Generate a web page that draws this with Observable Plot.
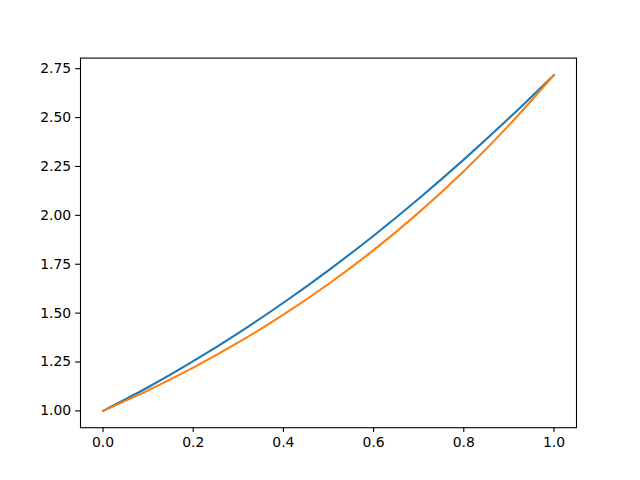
<!DOCTYPE html>
<html>
<head>
<meta charset="utf-8">
<script src="https://cdn.jsdelivr.net/npm/d3@7"></script>
<script src="https://cdn.jsdelivr.net/npm/@observablehq/plot@0.6"></script>
<style>
  html, body { margin: 0; padding: 0; background: white; }
</style>
</head>
<body>
<div id="chart"></div>
<script>
// Values
const xs = [0.0, 0.1, 0.2, 0.3, 0.4, 0.5, 0.6, 0.7, 0.8, 0.9, 1.0];
const series1Values = [1.000, 1.121, 1.254, 1.398, 1.553, 1.719, 1.896, 2.085, 2.285, 2.496, 2.718];
const series2Values = [1.000, 1.105, 1.221, 1.350, 1.492, 1.649, 1.822, 2.014, 2.226, 2.460, 2.718];
const xTicks = [0.0, 0.2, 0.4, 0.6, 0.8, 1.0];
const yTicks = [1.00, 1.25, 1.50, 1.75, 2.00, 2.25, 2.50, 2.75];
const seriesNames = ["series 1", "series 2"];
const seriesColors = ["#1f77b4", "#ff7f0e"];

const data = [];
xs.forEach((x, i) => {
  data.push({series: seriesNames[0], x, y: series1Values[i]});
  data.push({series: seriesNames[1], x, y: series2Values[i]});
});

const chart = Plot.plot({
  width: 640,
  height: 480,
  marginLeft: 80,
  marginRight: 64,
  marginTop: 57.6,
  marginBottom: 52.8,
  style: {fontFamily: "DejaVu Sans", fontSize: "13.9px", background: "white", color: "black"},
  x: {domain: [-0.05, 1.05]},
  y: {domain: [0.9141, 2.8042]},
  color: {domain: seriesNames, range: seriesColors},
  marks: [
    Plot.line(data, {x: "x", y: "y", z: "series", stroke: "series", strokeWidth: 2.08, curve: "natural"}),
    Plot.frame({stroke: "black", strokeWidth: 1.1}),
    Plot.axisX({ticks: xTicks, tickFormat: d3.format(".1f"), tickSize: 4.86, tickPadding: 4.5, label: null, strokeWidth: 1.1, fontSize: 13.9}),
    Plot.axisY({ticks: yTicks, tickFormat: d3.format(".2f"), tickSize: 4.86, tickPadding: 4.5, label: null, strokeWidth: 1.1, fontSize: 13.9})
  ]
});
document.getElementById("chart").appendChild(chart);
</script>
</body>
</html>
